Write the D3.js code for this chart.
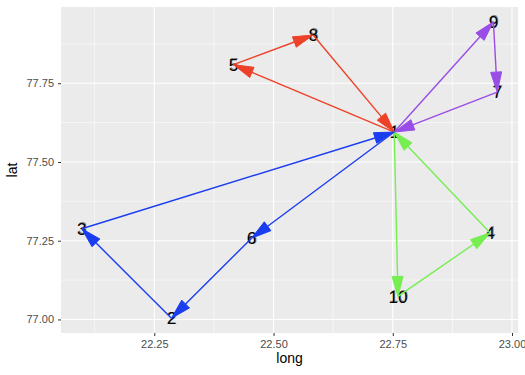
<!DOCTYPE html>
<html lang="en">
<head>
    <meta charset="UTF-8"/>
    <title>Routes</title>
    <script src="https://d3js.org/d3.v7.min.js"></script>
    <style type="text/css">
        body { margin: 0; background: #fff; }
        text { font-family: "Liberation Sans", Arial, sans-serif; }
        .tick text { fill: #4d4d4d; font-size: 11px; }
        .tick line { stroke: #333; }
        .domain { display: none; }
    </style>
</head>
<body>
<svg width="525" height="375"></svg>
<script type="text/javascript">
    // points
    var ids = [1, 2, 3, 4, 5, 6, 7, 8, 9, 10];
    var longs = [22.753, 22.286, 22.098, 22.954, 22.416, 22.454, 22.969, 22.583, 22.961, 22.761];
    var lats = [77.595, 77.004, 77.288, 77.275, 77.809, 77.258, 77.722, 77.903, 77.945, 77.073];

    // routes, each a chain of point ids
    var routes = [[1, 5, 8, 1], [1, 9, 7, 1], [1, 10, 4, 1], [1, 6, 2, 3, 1]];
    var routeColors = ["#ee4129", "#9a4ce6", "#76ee52", "#1b3df0"];

    var xTicks = [22.25, 22.50, 22.75, 23.00];
    var yTicks = [77.00, 77.25, 77.50, 77.75];

    var svg = d3.select("svg"),
        margin = {top: 7, right: 7, bottom: 42, left: 61},
        width = 525 - margin.left - margin.right,
        height = 375 - margin.top - margin.bottom;

    function expand(ext) {
        var pad = (ext[1] - ext[0]) * 0.05;
        return [ext[0] - pad, ext[1] + pad];
    }

    var x = d3.scaleLinear().domain(expand(d3.extent(longs))).range([0, width]);
    var y = d3.scaleLinear().domain(expand(d3.extent(lats))).range([height, 0]);

    var g = svg.append("g")
        .attr("transform", "translate(" + margin.left + "," + margin.top + ")");

    g.append("rect")
        .attr("width", width)
        .attr("height", height)
        .attr("fill", "#ebebeb");

    // minor grid
    var xMinor = xTicks.map(function(t) { return t - 0.125; }).concat([xTicks[3] + 0.125])
        .filter(function(t) { return t > x.domain()[0] && t < x.domain()[1]; });
    var yMinor = yTicks.map(function(t) { return t - 0.125; }).concat([yTicks[3] + 0.125])
        .filter(function(t) { return t > y.domain()[0] && t < y.domain()[1]; });

    g.selectAll(".xminor").data(xMinor).enter().append("line")
        .attr("x1", x).attr("x2", x).attr("y1", 0).attr("y2", height)
        .attr("stroke", "#fff").attr("stroke-width", 0.55);
    g.selectAll(".yminor").data(yMinor).enter().append("line")
        .attr("y1", y).attr("y2", y).attr("x1", 0).attr("x2", width)
        .attr("stroke", "#fff").attr("stroke-width", 0.55);
    g.selectAll(".xmajor").data(xTicks).enter().append("line")
        .attr("x1", x).attr("x2", x).attr("y1", 0).attr("y2", height)
        .attr("stroke", "#fff").attr("stroke-width", 1.1);
    g.selectAll(".ymajor").data(yTicks).enter().append("line")
        .attr("y1", y).attr("y2", y).attr("x1", 0).attr("x2", width)
        .attr("stroke", "#fff").attr("stroke-width", 1.1);

    // axes
    g.append("g")
        .attr("transform", "translate(0," + height + ")")
        .call(d3.axisBottom(x).tickValues(xTicks).tickFormat(d3.format(".2f")).tickSize(3).tickPadding(4));
    g.append("g")
        .call(d3.axisLeft(y).tickValues(yTicks).tickFormat(d3.format(".2f")).tickSize(3).tickPadding(4));

    svg.append("text")
        .attr("x", margin.left + width / 2)
        .attr("y", 363)
        .attr("text-anchor", "middle")
        .style("font-size", "14px")
        .text("long");
    svg.append("text")
        .attr("transform", "translate(17," + (margin.top + height / 2) + ") rotate(-90)")
        .attr("text-anchor", "middle")
        .style("font-size", "14px")
        .text("lat");

    // labels (second copy faint and slightly shifted, like the overprint in the original)
    [[0, 0, 1], [0.8, -0.8, 0.45]].forEach(function(off) {
        g.selectAll(null).data(ids).enter().append("text")
            .attr("x", function(d, i) { return x(longs[i]) + off[0]; })
            .attr("y", function(d, i) { return y(lats[i]) + off[1]; })
            .attr("text-anchor", "middle")
            .attr("dy", "0.36em")
            .style("font-size", "17px")
            .attr("fill", "#000")
            .attr("fill-opacity", off[2])
            .text(function(d) { return d; });
    });

    // arrows
    var segs = [];
    routes.forEach(function(r, k) {
        for (var j = 0; j < r.length - 1; j++) {
            segs.push({from: r[j] - 1, to: r[j + 1] - 1, color: routeColors[k]});
        }
    });

    var headLen = 20, headHalf = 5.5;
    segs.forEach(function(s) {
        var x1 = x(longs[s.from]), y1 = y(lats[s.from]),
            x2 = x(longs[s.to]), y2 = y(lats[s.to]);
        var dx = x2 - x1, dy = y2 - y1, len = Math.sqrt(dx * dx + dy * dy);
        var ux = dx / len, uy = dy / len;
        g.append("line")
            .attr("x1", x1).attr("y1", y1)
            .attr("x2", x2 - ux * headLen * 0.5).attr("y2", y2 - uy * headLen * 0.5)
            .attr("stroke", s.color)
            .attr("stroke-width", 1.4);
        var bx = x2 - ux * headLen, by = y2 - uy * headLen;
        g.append("path")
            .attr("d", "M" + x2 + "," + y2 +
                "L" + (bx - uy * headHalf) + "," + (by + ux * headHalf) +
                "L" + (bx + uy * headHalf) + "," + (by - ux * headHalf) + "Z")
            .attr("fill", s.color)
            .attr("stroke", s.color)
            .attr("stroke-width", 1);
    });
</script>
</body>
</html>
